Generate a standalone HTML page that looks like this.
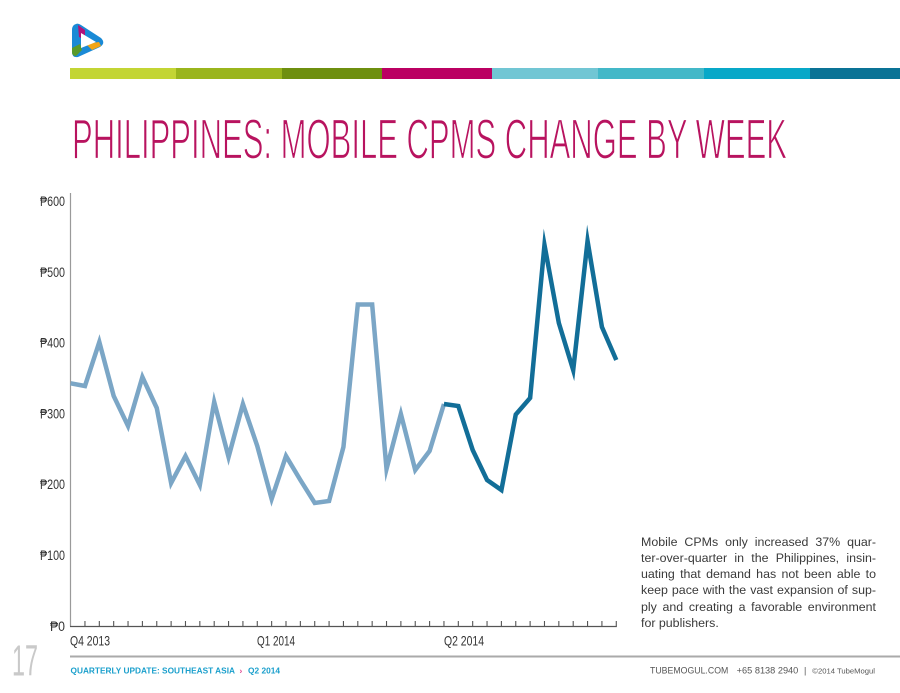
<!DOCTYPE html>
<html>
<head>
<meta charset="utf-8">
<style>
  html,body{margin:0;padding:0;background:#fff;}
  #wrap{position:relative;width:900px;height:693px;overflow:hidden;background:#fff;}
  svg{position:absolute;left:0;top:0;}
  .para{position:absolute;left:641px;top:534px;width:235px;font-family:"Liberation Sans",sans-serif;font-size:12.4px;color:#3a3a3a;}
  .para div{height:16.15px;line-height:16.15px;text-align:justify;text-align-last:justify;white-space:nowrap;}
  .para div.last{text-align-last:left;}
</style>
</head>
<body>
<div id="wrap">
<svg width="900" height="693" viewBox="0 0 900 693" xmlns="http://www.w3.org/2000/svg">
  <!-- logo -->
  <g>
    <path d="M76,24 Q72,25 72,30 L72,52 Q72,58 78,57 L100,47 Q106,43 101,38 L81,25 Q78,23 76,24 Z" fill="#1a8ad6"/>
    <path d="M78,25 L85,30 L85,40 L79,37 Z" fill="#b0127a"/>
    <path d="M72,48 L80,44 L82,50 L76,56 Q72,56 72,52 Z" fill="#5a9a2a"/>
    <path d="M86,44 L99,42 L101,46 L92,50 Z" fill="#f2a516"/>
    <path d="M81,33 L96,42 L81,48 Z" fill="#ffffff"/>
  </g>

  <!-- color bar -->
  <rect x="70" y="68" width="106" height="11" fill="#c3d534"/>
  <rect x="176" y="68" width="106" height="11" fill="#9ab51c"/>
  <rect x="282" y="68" width="100" height="11" fill="#6e8f0f"/>
  <rect x="382" y="68" width="110" height="11" fill="#bb0062"/>
  <rect x="492" y="68" width="106" height="11" fill="#71c6d4"/>
  <rect x="598" y="68" width="106" height="11" fill="#43b8c8"/>
  <rect x="704" y="68" width="106" height="11" fill="#08a8c8"/>
  <rect x="810" y="68" width="90" height="11" fill="#0a7396"/>

  <!-- title -->
  <text x="72" y="158.3" font-family="Liberation Sans, sans-serif" font-size="56.5" fill="#b8135f" stroke="#ffffff" stroke-width="1.3" paint-order="fill stroke" textLength="715" lengthAdjust="spacingAndGlyphs">PHILIPPINES: MOBILE CPMS CHANGE BY WEEK</text>

  <!-- y axis -->
  <line x1="70.5" y1="193" x2="70.5" y2="626.5" stroke="#9a9a9a" stroke-width="1.2"/>
  <!-- x axis -->
  <line x1="70" y1="626.5" x2="616.8" y2="626.5" stroke="#555" stroke-width="1.2"/>
  <g stroke="#555" stroke-width="1.1">
    <line x1="84.96" y1="621" x2="84.96" y2="626.5"/>
    <line x1="99.32" y1="621" x2="99.32" y2="626.5"/>
    <line x1="113.68" y1="621" x2="113.68" y2="626.5"/>
    <line x1="128.04" y1="621" x2="128.04" y2="626.5"/>
    <line x1="142.4" y1="621" x2="142.4" y2="626.5"/>
    <line x1="156.76" y1="621" x2="156.76" y2="626.5"/>
    <line x1="171.12" y1="621" x2="171.12" y2="626.5"/>
    <line x1="185.48" y1="621" x2="185.48" y2="626.5"/>
    <line x1="199.84" y1="621" x2="199.84" y2="626.5"/>
    <line x1="214.2" y1="621" x2="214.2" y2="626.5"/>
    <line x1="228.56" y1="621" x2="228.56" y2="626.5"/>
    <line x1="242.92" y1="621" x2="242.92" y2="626.5"/>
    <line x1="257.28" y1="621" x2="257.28" y2="626.5"/>
    <line x1="271.64" y1="621" x2="271.64" y2="626.5"/>
    <line x1="286" y1="621" x2="286" y2="626.5"/>
    <line x1="300.36" y1="621" x2="300.36" y2="626.5"/>
    <line x1="314.72" y1="621" x2="314.72" y2="626.5"/>
    <line x1="329.08" y1="621" x2="329.08" y2="626.5"/>
    <line x1="343.44" y1="621" x2="343.44" y2="626.5"/>
    <line x1="357.8" y1="621" x2="357.8" y2="626.5"/>
    <line x1="372.16" y1="621" x2="372.16" y2="626.5"/>
    <line x1="386.52" y1="621" x2="386.52" y2="626.5"/>
    <line x1="400.88" y1="621" x2="400.88" y2="626.5"/>
    <line x1="415.24" y1="621" x2="415.24" y2="626.5"/>
    <line x1="429.6" y1="621" x2="429.6" y2="626.5"/>
    <line x1="443.96" y1="621" x2="443.96" y2="626.5"/>
    <line x1="458.32" y1="621" x2="458.32" y2="626.5"/>
    <line x1="472.68" y1="621" x2="472.68" y2="626.5"/>
    <line x1="487.04" y1="621" x2="487.04" y2="626.5"/>
    <line x1="501.4" y1="621" x2="501.4" y2="626.5"/>
    <line x1="515.76" y1="621" x2="515.76" y2="626.5"/>
    <line x1="530.12" y1="621" x2="530.12" y2="626.5"/>
    <line x1="544.48" y1="621" x2="544.48" y2="626.5"/>
    <line x1="558.84" y1="621" x2="558.84" y2="626.5"/>
    <line x1="573.2" y1="621" x2="573.2" y2="626.5"/>
    <line x1="587.56" y1="621" x2="587.56" y2="626.5"/>
    <line x1="601.92" y1="621" x2="601.92" y2="626.5"/>
    <line x1="616.28" y1="621" x2="616.28" y2="626.5"/>
  </g>

  <!-- y labels -->
  <g font-family="Liberation Sans, DejaVu Sans, sans-serif" font-size="13.5" fill="#333" text-anchor="end">
    <text x="65" y="206" textLength="25" lengthAdjust="spacingAndGlyphs">₱600</text>
    <text x="65" y="277" textLength="25" lengthAdjust="spacingAndGlyphs">₱500</text>
    <text x="65" y="347.5" textLength="25" lengthAdjust="spacingAndGlyphs">₱400</text>
    <text x="65" y="418.3" textLength="25" lengthAdjust="spacingAndGlyphs">₱300</text>
    <text x="65" y="489.2" textLength="25" lengthAdjust="spacingAndGlyphs">₱200</text>
    <text x="65" y="560" textLength="25" lengthAdjust="spacingAndGlyphs">₱100</text>
    <text x="65" y="631" textLength="15" lengthAdjust="spacingAndGlyphs">₱0</text>
  </g>

  <!-- x labels -->
  <g font-family="Liberation Sans, sans-serif" font-size="13.8" fill="#333">
    <text x="70" y="645.5" textLength="40" lengthAdjust="spacingAndGlyphs">Q4 2013</text>
    <text x="257" y="645.5" textLength="38" lengthAdjust="spacingAndGlyphs">Q1 2014</text>
    <text x="444" y="645.5" textLength="40" lengthAdjust="spacingAndGlyphs">Q2 2014</text>
  </g>

  <!-- series -->
  <polyline fill="none" stroke="#7ba6c6" stroke-width="4.5" stroke-linejoin="miter" stroke-miterlimit="10"
    points="70.6,383.3 84.96,386 99.32,342 113.68,396 128.04,426 142.4,377 156.76,408 171.12,483 185.48,456 199.84,485 214.2,402 228.56,457 242.92,404 257.28,446 271.64,499 286,456 300.36,480 314.72,503 329.08,501 343.44,447 357.8,304.5 372.16,304.5 386.52,469 400.88,414 415.24,470 429.6,451 443.96,404"/>
  <polyline fill="none" stroke="#126e98" stroke-width="4.5" stroke-linejoin="miter" stroke-miterlimit="10"
    points="443.96,404 458.32,406 472.68,450 487.04,480 501.4,490 515.76,414.5 530.12,398 544.48,245 558.84,323 573.2,370 587.56,241 601.92,327 616.28,360"/>

  <!-- footer -->
  <line x1="70" y1="656.5" x2="900" y2="656.5" stroke="#aaaaaa" stroke-width="2"/>
  <text x="12" y="675.5" font-family="Liberation Sans, sans-serif" font-size="44" fill="#c9c9c9" textLength="26" lengthAdjust="spacingAndGlyphs">17</text>
  <g font-family="Liberation Sans, sans-serif" font-size="8.3" font-weight="bold" fill="#1a9fcc">
    <text x="70.5" y="673.3" textLength="164.5" lengthAdjust="spacingAndGlyphs">QUARTERLY UPDATE: SOUTHEAST ASIA</text>
    <text x="239.5" y="673.3" fill="#e0458f">›</text>
    <text x="248" y="673.3" textLength="32" lengthAdjust="spacingAndGlyphs">Q2 2014</text>
  </g>
  <g font-family="Liberation Sans, sans-serif" font-size="9" fill="#555">
    <text x="650" y="673.5" textLength="78.3" lengthAdjust="spacingAndGlyphs">TUBEMOGUL.COM</text>
    <text x="736.7" y="673.5" textLength="61.6" lengthAdjust="spacingAndGlyphs">+65 8138 2940</text>
    <text x="804" y="673.5">|</text>
    <text x="812.3" y="673.5" font-size="7.6" textLength="62.7" lengthAdjust="spacingAndGlyphs">©2014 TubeMogul</text>
  </g>
</svg>

<div class="para">
  <div>Mobile CPMs only increased 37% quar-</div>
  <div>ter-over-quarter in the Philippines, insin-</div>
  <div>uating that demand has not been able to</div>
  <div>keep pace with the vast expansion of sup-</div>
  <div>ply and creating a favorable environment</div>
  <div class="last">for publishers.</div>
</div>
</div>
</body>
</html>
